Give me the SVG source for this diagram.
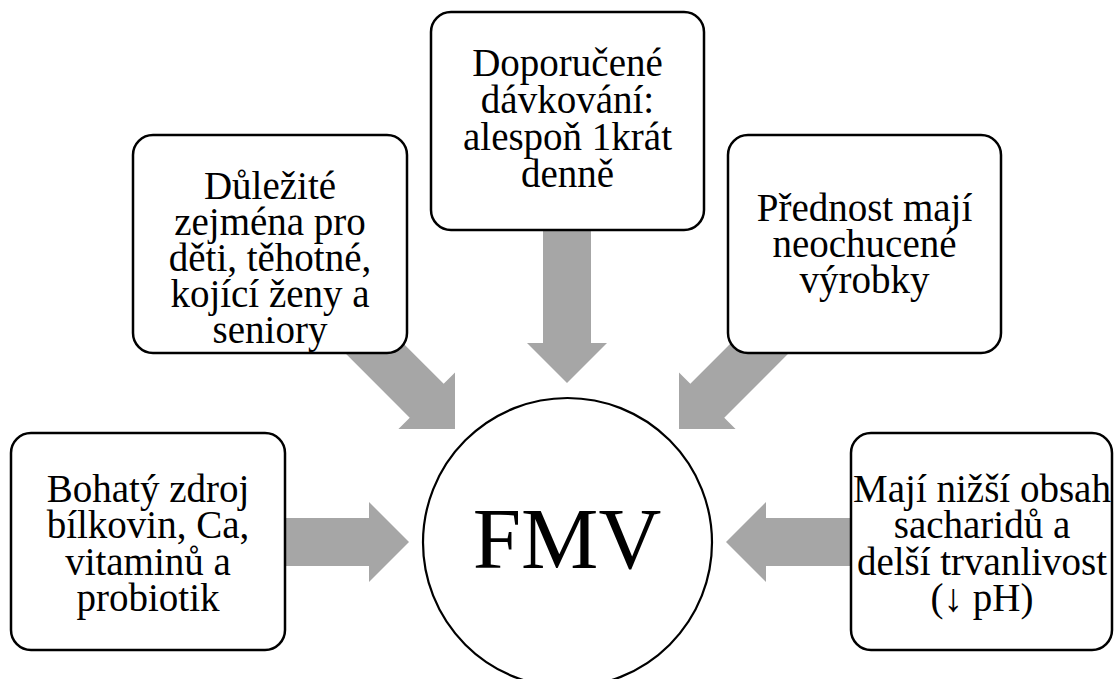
<svg xmlns="http://www.w3.org/2000/svg" width="1114" height="679" viewBox="0 0 1114 679">
<defs>
<style>
.box{fill:#fff;stroke:#000;stroke-width:2.5}
.arr{fill:#A6A6A6}
.t{font-family:"Liberation Serif","Times New Roman",serif;font-size:39px;fill:#000;text-anchor:middle}
.big{font-family:"Liberation Serif","Times New Roman",serif;font-size:87px;fill:#000;text-anchor:middle}
</style>
<path id="a" d="M-160,-24 L-40,-24 L-40,-40 L0,0 L-40,40 L-40,24 L-160,24 Z"/>
</defs>
<rect width="1114" height="679" fill="#fff"/>
<g id="connectors" class="arr">
<use href="#a" transform="translate(409,542)"/>
<use href="#a" transform="translate(726,542) rotate(180)"/>
<use href="#a" transform="translate(567,383) rotate(90)"/>
<use href="#a" transform="translate(455,429) rotate(45)"/>
<use href="#a" transform="translate(679,429) rotate(135)"/>
</g>
<g id="center">
<circle cx="567.5" cy="542.5" r="144.5" fill="#fff" stroke="#000" stroke-width="2.2"/>
<text class="big" x="567" y="568">FMV</text>
</g>
<g id="box-top">
<rect class="box" x="431" y="12" width="273" height="218" rx="20"/>
<text class="t" x="567.5" y="76">Doporučené</text>
<text class="t" x="567.5" y="113">dávkování:</text>
<text class="t" x="567.5" y="150">alespoň 1krát</text>
<text class="t" x="567.5" y="187">denně</text>
</g>
<g id="box-upper-left">
<rect class="box" x="133" y="135" width="274" height="218" rx="20"/>
<text class="t" x="270" y="199">Důležité</text>
<text class="t" x="270" y="235">zejména pro</text>
<text class="t" x="270" y="271">děti, těhotné,</text>
<text class="t" x="270" y="307">kojící ženy a</text>
<text class="t" x="270" y="343">seniory</text>
</g>
<g id="box-upper-right">
<rect class="box" x="728" y="135" width="273" height="218" rx="20"/>
<text class="t" x="864.5" y="221">Přednost mají</text>
<text class="t" x="864.5" y="257">neochucené</text>
<text class="t" x="864.5" y="293">výrobky</text>
</g>
<g id="box-left">
<rect class="box" x="11" y="433" width="274" height="217" rx="20"/>
<text class="t" x="148" y="502">Bohatý zdroj</text>
<text class="t" x="148" y="538">bílkovin, Ca,</text>
<text class="t" x="148" y="575">vitaminů a</text>
<text class="t" x="148" y="611">probiotik</text>
</g>
<g id="box-right">
<rect class="box" x="851" y="433" width="261" height="217" rx="20"/>
<text class="t" x="982" y="502">Mají nižší obsah</text>
<text class="t" x="982" y="538">sacharidů a</text>
<text class="t" x="982" y="575">delší trvanlivost</text>
<text class="t" x="982" y="611">(↓ pH)</text>
</g>
</svg>
